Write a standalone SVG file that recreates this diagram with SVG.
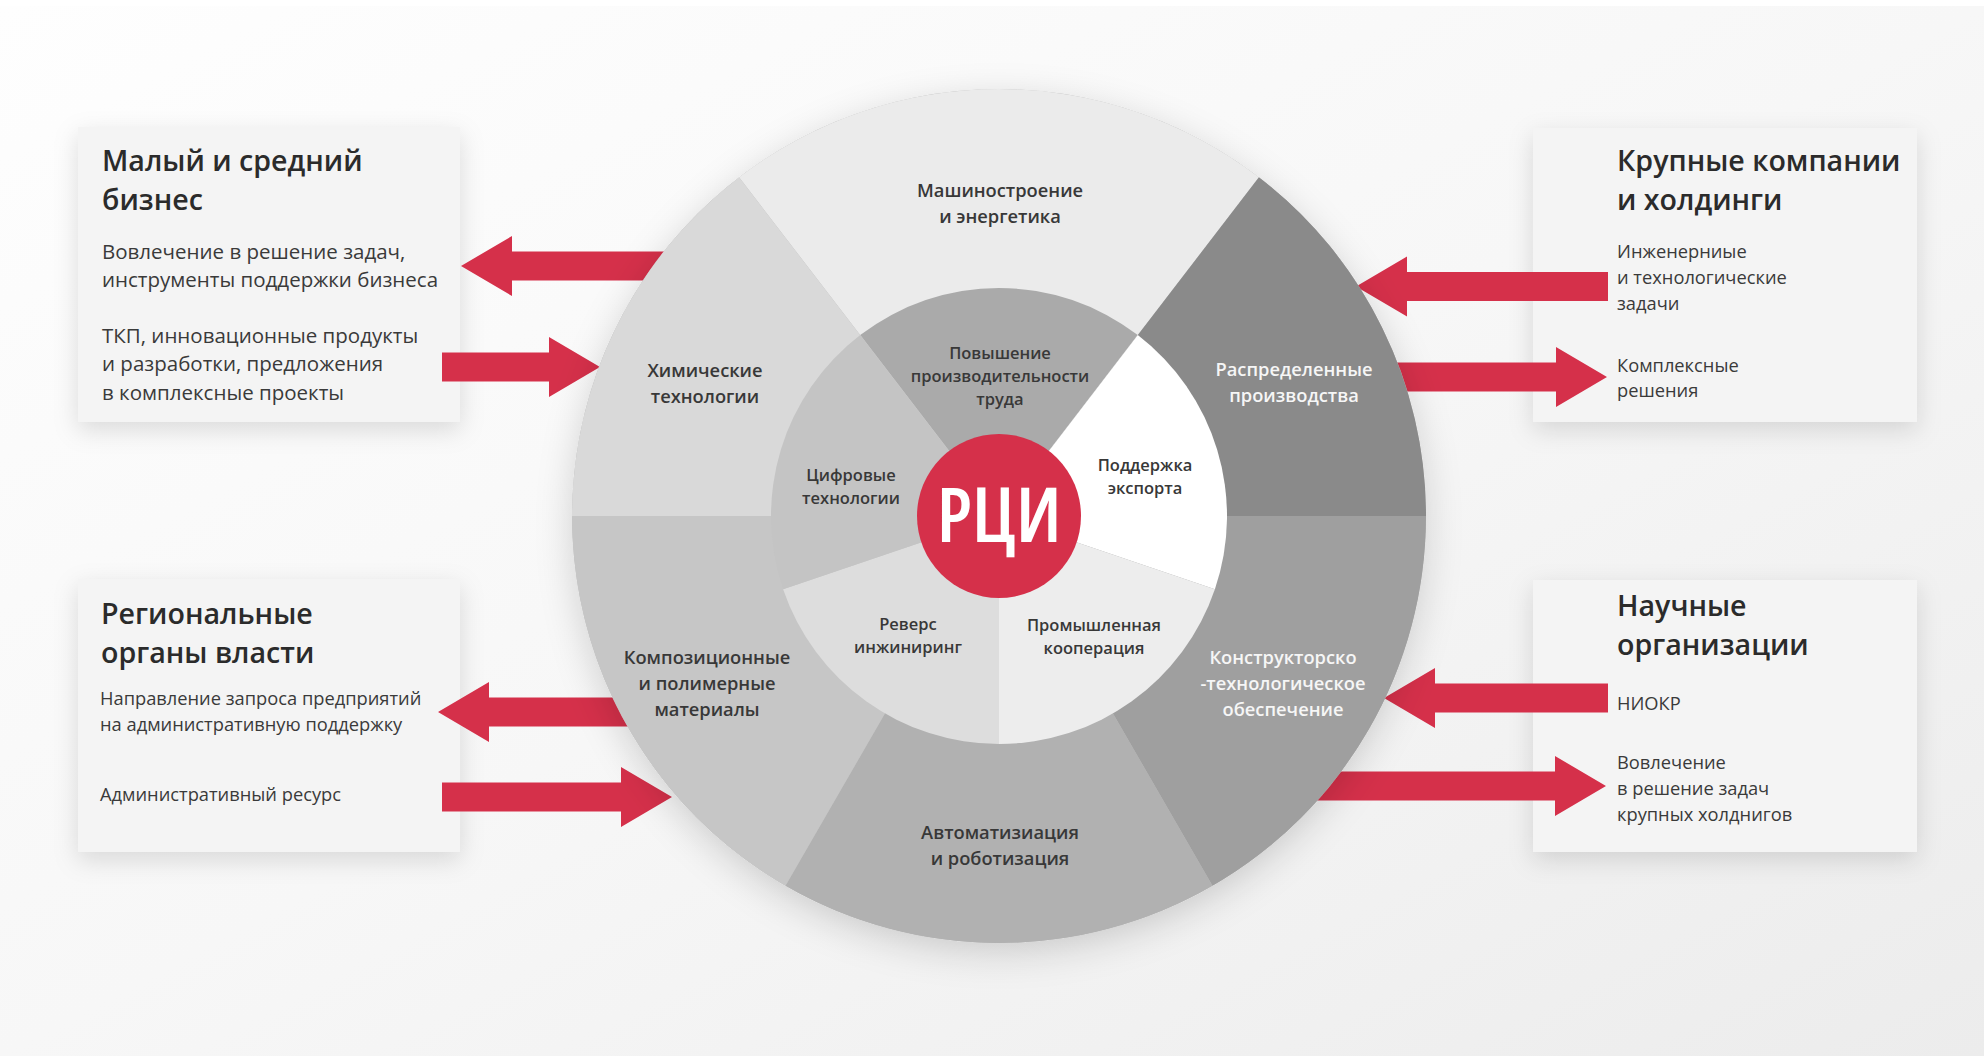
<svg xmlns="http://www.w3.org/2000/svg" width="1984" height="1056" viewBox="0 0 1984 1056">
<defs>
<linearGradient id="bg" x1="0" y1="0" x2="1" y2="1">
<stop offset="0" stop-color="#fefefe"/>
<stop offset="0.5" stop-color="#f7f7f7"/>
<stop offset="1" stop-color="#ececec"/>
</linearGradient>
<filter id="boxShadow" x="-20%" y="-20%" width="140%" height="150%">
<feDropShadow dx="0" dy="8" stdDeviation="12" flood-color="#000" flood-opacity="0.13"/>
</filter>
<filter id="wheelShadow" x="-20%" y="-20%" width="140%" height="140%">
<feDropShadow dx="0" dy="10" stdDeviation="18" flood-color="#000" flood-opacity="0.16"/>
</filter>
<style>
.box{fill:#f4f4f4;filter:url(#boxShadow)}
.arrow{fill:#d5304a}
.title{font-family:"Open Sans","Noto Sans",sans-serif;font-weight:600;font-size:28.6px;fill:#2b2b2b}
.body{font-family:"Open Sans","Noto Sans",sans-serif;font-weight:400;font-size:18.3px;fill:#3a3a3a}
.bodyL{font-size:20.5px}
.w{font-family:"Open Sans","Noto Sans",sans-serif;font-weight:600;font-size:18.3px;fill:#383838;text-anchor:middle}
.wi{font-size:16.5px}
.wh{fill:#f6f6f6}
.rci{font-family:"Open Sans","Noto Sans",sans-serif;font-weight:600;font-stretch:condensed;font-size:76px;fill:#ffffff;text-anchor:middle}
</style>
</defs>

<rect width="1984" height="1056" fill="#ffffff"/>
<rect x="0" y="6" width="1984" height="1050" fill="url(#bg)"/>

<g id="box-small-business">
<rect class="box" x="78" y="127" width="382" height="295"/>
<text class="title" x="102" y="171">Малый и средний<tspan x="102" dy="39">бизнес</tspan></text>
<text class="body bodyL" x="102" y="259">Вовлечение в решение задач,<tspan x="102" dy="28">инструменты поддержки бизнеса</tspan></text>
<text class="body bodyL" x="102" y="343">ТКП, инновационные продукты<tspan x="102" dy="28">и разработки, предложения</tspan><tspan x="102" dy="29">в комплексные проекты</tspan></text>
</g>

<g id="box-regional">
<rect class="box" x="78" y="579" width="382" height="273"/>
<text class="title" x="101" y="624">Региональные<tspan x="101" dy="39">органы власти</tspan></text>
<text class="body" x="100" y="705">Направление запроса предприятий<tspan x="100" dy="26">на административную поддержку</tspan></text>
<text class="body" x="100" y="801">Административный ресурс</text>
</g>

<g id="box-large">
<rect class="box" x="1533" y="128" width="384" height="294"/>
<text class="title" x="1617" y="171">Крупные компании<tspan x="1617" dy="39">и холдинги</tspan></text>
<text class="body" x="1617" y="258">Инженерниые<tspan x="1617" dy="26">и технологические</tspan><tspan x="1617" dy="26">задачи</tspan></text>
<text class="body" x="1617" y="372">Комплексные<tspan x="1617" dy="25">решения</tspan></text>
</g>

<g id="box-science">
<rect class="box" x="1533" y="580" width="384" height="272"/>
<text class="title" x="1617" y="616">Научные<tspan x="1617" dy="39">организации</tspan></text>
<text class="body" x="1617" y="710">НИОКР</text>
<text class="body" x="1617" y="769">Вовлечение<tspan x="1617" dy="26">в решение задач</tspan><tspan x="1617" dy="26">крупных холднигов</tspan></text>
</g>

<g id="connectors">
<polygon class="arrow" points="461,266 512,236 512,251.5 720,251.5 720,280.5 512,280.5 512,296"/>
<polygon class="arrow" points="442,352.5 549,352.5 549,337 600,367 549,397 549,381.5 442,381.5"/>
<polygon class="arrow" points="438,712 489,682 489,697.5 720,697.5 720,726.5 489,726.5 489,742"/>
<polygon class="arrow" points="442,782.5 621,782.5 621,767 672,797 621,827 621,811.5 442,811.5"/>
<polygon class="arrow" points="1356,286.5 1407,256.5 1407,272 1608,272 1608,301 1407,301 1407,316.5"/>
<polygon class="arrow" points="1300,362.5 1556,362.5 1556,347 1607,377 1556,407 1556,391.5 1300,391.5"/>
<polygon class="arrow" points="1384,698 1435,668 1435,683.5 1608,683.5 1608,712.5 1435,712.5 1435,728"/>
<polygon class="arrow" points="1250,771.5 1555,771.5 1555,756 1606,786 1555,816 1555,800.5 1250,800.5"/>
</g>

<g id="wheel">
<circle cx="999" cy="516" r="427" fill="#bbbbbb" filter="url(#wheelShadow)"/>
<g id="outer-machinery"><path d="M999,516 L739.06,177.24 A427,427 0 0 1 1258.94,177.24 Z" fill="#ebebeb"/>
<text class="w" x="1000" y="197">Машиностроение<tspan x="1000" dy="26">и энергетика</tspan></text></g>
<g id="outer-distributed"><path d="M999,516 L1258.94,177.24 A427,427 0 0 1 1426,516 Z" fill="#8a8a8a"/>
<text class="w wh" x="1294" y="376">Распределенные<tspan x="1294" dy="25.5">производства</tspan></text></g>
<g id="outer-design"><path d="M999,516 L1426,516 A427,427 0 0 1 1212.5,885.79 Z" fill="#9f9f9f"/>
<text class="w wh" x="1283" y="664">Конструкторско<tspan x="1283" dy="26">-технологическое</tspan><tspan x="1283" dy="26">обеспечение</tspan></text></g>
<g id="outer-automation"><path d="M999,516 L1212.5,885.79 A427,427 0 0 1 785.5,885.79 Z" fill="#b1b1b1"/>
<text class="w" x="1000" y="839">Автоматизиация<tspan x="1000" dy="25.5">и роботизация</tspan></text></g>
<g id="outer-composite"><path d="M999,516 L785.5,885.79 A427,427 0 0 1 572,516 Z" fill="#c6c6c6"/>
<text class="w" x="707" y="664">Композиционные<tspan x="707" dy="26">и полимерные</tspan><tspan x="707" dy="26">материалы</tspan></text></g>
<g id="outer-chemical"><path d="M999,516 L572,516 A427,427 0 0 1 739.06,177.24 Z" fill="#d9d9d9"/>
<text class="w" x="705" y="377">Химические<tspan x="705" dy="26">технологии</tspan></text></g>

<g id="inner-productivity"><path d="M999,516 L860.2,335.12 A228,228 0 0 1 1137.8,335.12 Z" fill="#aaaaaa"/>
<text class="w wi" x="1000" y="359">Повышение<tspan x="1000" dy="23">производительности</tspan><tspan x="1000" dy="23">труда</tspan></text></g>
<g id="inner-export"><path d="M999,516 L1137.8,335.12 A228,228 0 0 1 1214.9,589.29 Z" fill="#ffffff"/>
<text class="w wi" x="1145" y="471">Поддержка<tspan x="1145" dy="23">экспорта</tspan></text></g>
<g id="inner-cooperation"><path d="M999,516 L1214.9,589.29 A228,228 0 0 1 999,744 Z" fill="#ededed"/>
<text class="w wi" x="1094" y="631">Промышленная<tspan x="1094" dy="23">кооперация</tspan></text></g>
<g id="inner-reverse"><path d="M999,516 L999,744 A228,228 0 0 1 783.1,589.29 Z" fill="#dddddd"/>
<text class="w wi" x="908" y="630">Реверс<tspan x="908" dy="23">инжиниринг</tspan></text></g>
<g id="inner-digital"><path d="M999,516 L783.1,589.29 A228,228 0 0 1 860.2,335.12 Z" fill="#c4c4c4"/>
<text class="w wi" x="851" y="481">Цифровые<tspan x="851" dy="23">технологии</tspan></text></g>

<g id="center-rci"><circle cx="999" cy="516" r="82" fill="#d5304a"/>
<text class="rci" x="999" y="542">РЦИ</text></g>
</g>
</svg>
